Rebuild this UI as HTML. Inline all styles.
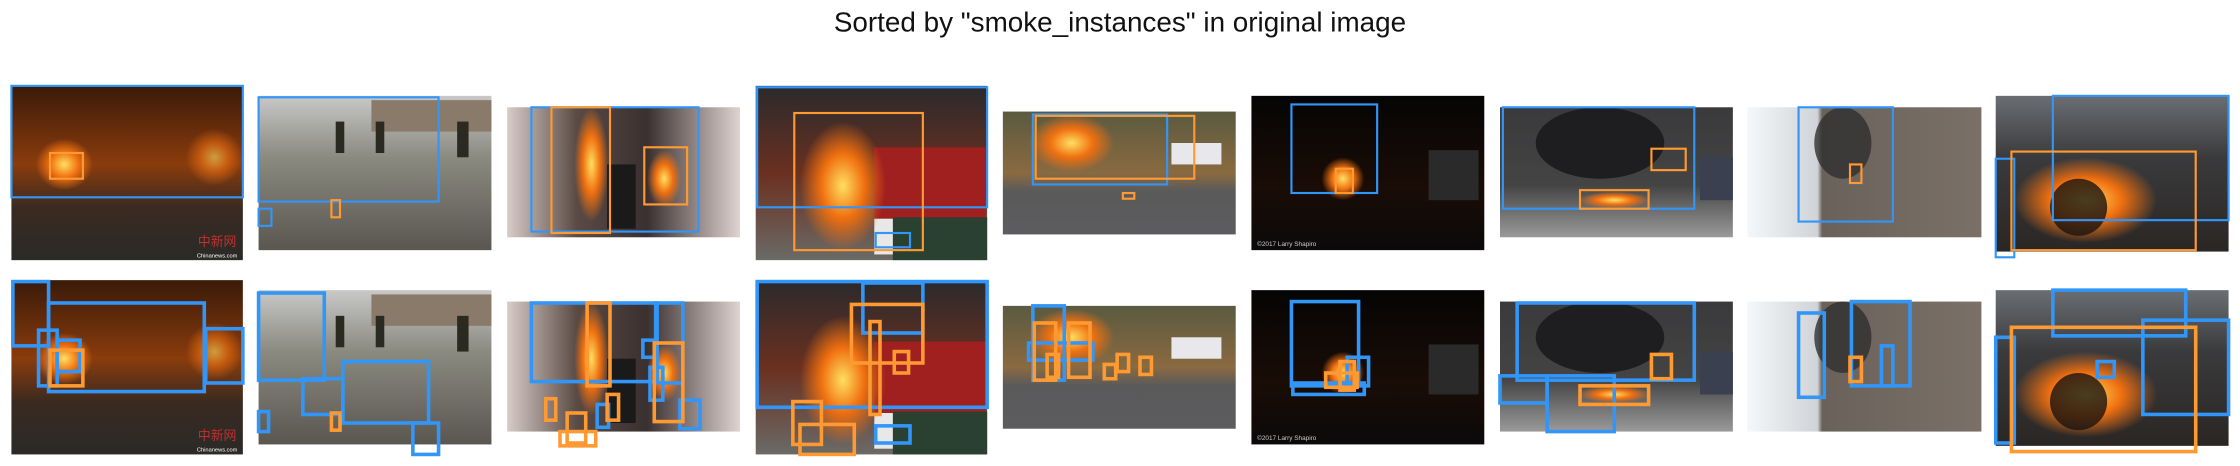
<!DOCTYPE html>
<html><head><meta charset="utf-8"><style>
html,body{margin:0;padding:0;background:#fff;}
svg{display:block;}
</style></head><body>
<svg width="2240" height="466" viewBox="0 0 1568 326" xmlns="http://www.w3.org/2000/svg">
<defs>
<linearGradient id="g1" x1="0" y1="0" x2="0" y2="1"><stop offset="0" stop-color="#3a1a0a"/><stop offset="0.45" stop-color="#8a3c0c"/><stop offset="0.7" stop-color="#3a2a20"/><stop offset="1" stop-color="#2a2a28"/></linearGradient>
<linearGradient id="g2" x1="0" y1="0" x2="0" y2="1"><stop offset="0" stop-color="#c8c8c8"/><stop offset="0.4" stop-color="#8a8a80"/><stop offset="1" stop-color="#5a5650"/></linearGradient>
<linearGradient id="g3" x1="0" y1="0" x2="1" y2="0"><stop offset="0" stop-color="#d8ccc8"/><stop offset="0.3" stop-color="#5a4a44"/><stop offset="0.6" stop-color="#3a3030"/><stop offset="1" stop-color="#e0d4d0"/></linearGradient>
<linearGradient id="g4" x1="0" y1="0" x2="0" y2="1"><stop offset="0" stop-color="#2a2a2c"/><stop offset="0.5" stop-color="#6a3020"/><stop offset="1" stop-color="#6a6a66"/></linearGradient>
<linearGradient id="g5" x1="0" y1="0" x2="0" y2="1"><stop offset="0" stop-color="#5a5a40"/><stop offset="0.5" stop-color="#8a6a40"/><stop offset="0.65" stop-color="#5a5a5a"/><stop offset="1" stop-color="#5c5c60"/></linearGradient>
<linearGradient id="g6" x1="0" y1="0" x2="0" y2="1"><stop offset="0" stop-color="#050505"/><stop offset="0.6" stop-color="#1a0c06"/><stop offset="1" stop-color="#0a0a0a"/></linearGradient>
<linearGradient id="g7" x1="0" y1="0" x2="0" y2="1"><stop offset="0" stop-color="#3a3a3c"/><stop offset="0.6" stop-color="#444"/><stop offset="1" stop-color="#9a9a9a"/></linearGradient>
<linearGradient id="g8" x1="0" y1="0" x2="1" y2="0"><stop offset="0" stop-color="#f4f8fa"/><stop offset="0.3" stop-color="#d0d4d8"/><stop offset="0.32" stop-color="#6a625a"/><stop offset="1" stop-color="#7a7068"/></linearGradient>
<linearGradient id="g9" x1="0" y1="0" x2="0" y2="1"><stop offset="0" stop-color="#6a6e72"/><stop offset="0.4" stop-color="#3a3a3c"/><stop offset="1" stop-color="#2a2624"/></linearGradient>
<radialGradient id="fire"><stop offset="0" stop-color="#ffe060"/><stop offset="0.5" stop-color="#f07010"/><stop offset="1" stop-color="#f07010" stop-opacity="0"/></radialGradient>
<g id="im1"><rect x="8" y="60" width="162" height="122" fill="url(#g1)"/><ellipse cx="45" cy="115" rx="20" ry="18" fill="url(#fire)"/><ellipse cx="150" cy="110" rx="20" ry="20" fill="url(#fire)" opacity="0.6"/><text x="152" y="172" font-size="9" fill="#c03030" font-family="Noto Sans CJK SC, sans-serif" text-anchor="middle">中新网</text><text x="152" y="180" font-size="4" fill="#fff" font-family="Liberation Sans, sans-serif" text-anchor="middle">Chinanews.com</text></g>
<g id="im2"><rect x="181" y="67" width="163" height="108" fill="url(#g2)"/><rect x="260" y="70" width="84" height="22" fill="#8a7a6a"/><rect x="235" y="85" width="6" height="22" fill="#2a2a20"/><rect x="263" y="85" width="6" height="22" fill="#2a2a20"/><rect x="320" y="85" width="8" height="25" fill="#2a2a20"/></g>
<g id="im3"><rect x="355" y="75" width="163" height="91" fill="url(#g3)"/><ellipse cx="414" cy="115" rx="12" ry="40" fill="url(#fire)"/><ellipse cx="465" cy="125" rx="12" ry="20" fill="url(#fire)"/><rect x="425" y="115" width="20" height="45" fill="#1a1a1a"/></g>
<g id="im4"><rect x="529" y="60" width="162" height="122" fill="url(#g4)"/><rect x="612" y="103" width="78" height="50" fill="#a02020"/><rect x="612" y="153" width="70" height="25" fill="#e8e8e8"/><rect x="625" y="152" width="66" height="30" fill="#2a4030"/><ellipse cx="590" cy="130" rx="30" ry="45" fill="url(#fire)"/></g>
<g id="im5"><rect x="702" y="78" width="163" height="86" fill="url(#g5)"/><ellipse cx="750" cy="100" rx="30" ry="20" fill="url(#fire)"/><rect x="820" y="100" width="35" height="15" fill="#e8e8ec"/></g>
<g id="im6"><rect x="876" y="67" width="163" height="108" fill="url(#g6)"/><ellipse cx="940" cy="125" rx="15" ry="15" fill="url(#fire)"/><rect x="1000" y="105" width="35" height="35" fill="#2a2a2a"/><text x="880" y="172" font-size="4.5" fill="#ccc" font-family="Liberation Sans, sans-serif">©2017 Larry Shapiro</text></g>
<g id="im7"><rect x="1050" y="75" width="163" height="91" fill="url(#g7)"/><ellipse cx="1120" cy="100" rx="45" ry="25" fill="#1e1e20"/><rect x="1190" y="110" width="23" height="30" fill="#3a4050"/><ellipse cx="1130" cy="140" rx="25" ry="6" fill="url(#fire)"/></g>
<g id="im8"><rect x="1223" y="75" width="164" height="91" fill="url(#g8)"/><ellipse cx="1290" cy="100" rx="20" ry="25" fill="#303030" opacity="0.8"/></g>
<g id="im9"><rect x="1397" y="67" width="163" height="109" fill="url(#g9)"/><ellipse cx="1460" cy="140" rx="50" ry="30" fill="url(#fire)"/><ellipse cx="1455" cy="145" rx="20" ry="20" fill="#1a1410" opacity="0.8"/></g>
</defs>
<text x="784" y="22" font-size="19.5" text-anchor="middle" fill="#111" font-family="Liberation Sans, DejaVu Sans, sans-serif">Sorted by "smoke_instances" in original image</text>

<use href="#im1"/><use href="#im2"/><use href="#im3"/><use href="#im4"/><use href="#im5"/><use href="#im6"/><use href="#im7"/><use href="#im8"/><use href="#im9"/>
<g fill="none" stroke-width="1.5">
<g stroke="#3296f8">
<rect x="8" y="60" width="162" height="78"/>
<rect x="181" y="68" width="126" height="73"/><rect x="181" y="146" width="9" height="12"/>
<rect x="372" y="75" width="117" height="87"/>
<rect x="530" y="61" width="161" height="84"/><rect x="613" y="163" width="24" height="10"/>
<rect x="723" y="80" width="94" height="49"/>
<rect x="904" y="73" width="60" height="62"/>
<rect x="1052" y="75" width="134" height="71"/>
<rect x="1259" y="75" width="66" height="80"/>
<rect x="1437" y="67" width="123" height="87"/><rect x="1397" y="111" width="13" height="69"/>
</g>
<g stroke="#ff9a33">
<rect x="35" y="107" width="23" height="18"/>
<rect x="232" y="140" width="6" height="12"/>
<rect x="386" y="75" width="41" height="88"/><rect x="451" y="103" width="30" height="40"/>
<rect x="556" y="79" width="90" height="96"/>
<rect x="725" y="81" width="111" height="44"/><rect x="786" y="135" width="8" height="4"/>
<rect x="935" y="118" width="12" height="17"/>
<rect x="1156" y="104" width="24" height="15"/><rect x="1106" y="133" width="48" height="13"/>
<rect x="1295" y="115" width="8" height="13"/>
<rect x="1408" y="106" width="129" height="69"/>
</g>
</g>

<g transform="translate(0,136)"><use href="#im1"/><use href="#im2"/><use href="#im3"/><use href="#im4"/><use href="#im5"/><use href="#im6"/><use href="#im7"/><use href="#im8"/><use href="#im9"/></g>
<g fill="none" stroke-width="2.5">
<g stroke="#3296f8">
<rect x="9" y="197" width="25" height="45"/><rect x="34" y="212" width="109" height="62"/><rect x="144" y="230" width="26" height="38"/><rect x="27" y="231" width="13" height="39"/><rect x="40" y="238" width="16" height="22"/>
<rect x="181" y="205" width="46" height="61"/><rect x="212" y="265" width="28" height="25"/><rect x="240" y="253" width="60" height="43"/><rect x="181" y="288" width="7" height="14"/><rect x="289" y="296" width="18" height="22"/>
<rect x="372" y="212" width="88" height="55"/><rect x="459" y="212" width="19" height="56"/><rect x="455" y="257" width="9" height="23"/><rect x="450" y="238" width="8" height="12"/><rect x="476" y="280" width="14" height="20"/><rect x="418" y="283" width="8" height="16"/>
<rect x="530" y="197" width="161" height="88"/><rect x="604" y="198" width="42" height="35"/><rect x="613" y="298" width="24" height="12"/>
<rect x="723" y="214" width="22" height="52"/><rect x="720" y="240" width="45" height="12"/>
<rect x="904" y="211" width="47" height="59"/><rect x="943" y="250" width="15" height="20"/><rect x="905" y="268" width="50" height="8"/>
<rect x="1062" y="212" width="124" height="54"/><rect x="1050" y="263" width="33" height="19"/><rect x="1083" y="263" width="47" height="39"/>
<rect x="1259" y="219" width="18" height="59"/><rect x="1296" y="211" width="41" height="59"/><rect x="1317" y="242" width="8" height="28"/>
<rect x="1437" y="203" width="93" height="32"/><rect x="1397" y="236" width="13" height="74"/><rect x="1468" y="253" width="12" height="11"/><rect x="1500" y="224" width="60" height="66"/>
</g>
<g stroke="#ff9a33">
<rect x="35" y="245" width="23" height="25"/>
<rect x="232" y="289" width="6" height="12"/>
<rect x="411" y="212" width="16" height="58"/><rect x="458" y="240" width="20" height="55"/><rect x="382" y="279" width="7" height="15"/><rect x="397" y="289" width="13" height="21"/><rect x="392" y="302" width="25" height="10"/><rect x="425" y="276" width="8" height="18"/>
<rect x="596" y="213" width="50" height="41"/><rect x="609" y="225" width="7" height="65"/><rect x="555" y="281" width="20" height="30"/><rect x="560" y="297" width="38" height="21"/><rect x="626" y="246" width="10" height="15"/>
<rect x="724" y="226" width="15" height="40"/><rect x="748" y="226" width="15" height="38"/><rect x="733" y="248" width="8" height="16"/><rect x="773" y="255" width="8" height="10"/><rect x="782" y="248" width="8" height="12"/><rect x="798" y="250" width="8" height="12"/>
<rect x="928" y="261" width="22" height="10"/><rect x="938" y="253" width="10" height="20"/>
<rect x="1106" y="270" width="48" height="13"/><rect x="1156" y="248" width="14" height="17"/>
<rect x="1295" y="250" width="8" height="17"/>
<rect x="1408" y="229" width="129" height="87"/>
</g>
</g>
</svg>
</body></html>
